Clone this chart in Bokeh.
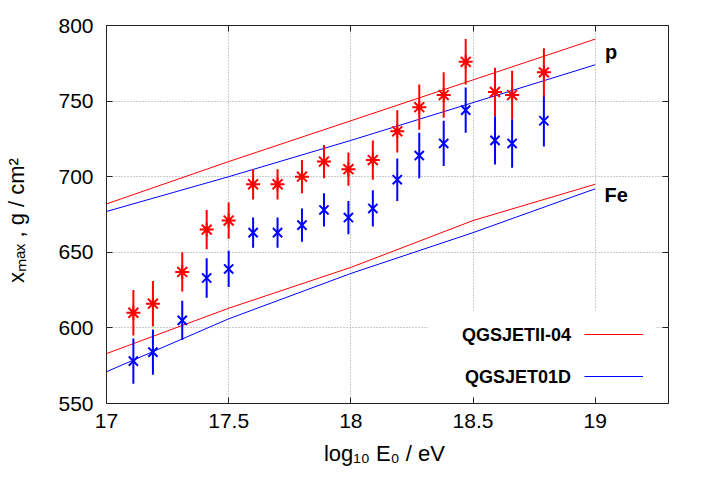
from bokeh.plotting import figure
from bokeh.models import (Range1d, FixedTicker, LinearAxis, Label, Legend,
                          LegendItem, BoxAnnotation)
from bokeh.embed import file_html
from bokeh.resources import INLINE

# ---- data ----
energy = [17.11, 17.19, 17.31, 17.41, 17.50, 17.60, 17.70, 17.80, 17.89,
          17.99, 18.09, 18.19, 18.28, 18.38, 18.47, 18.59, 18.66, 18.79]
xmax_q2 = [610, 616, 637, 665, 671, 695, 695, 700, 710,
           705, 711, 730, 746, 754, 776, 756, 754, 769]
err_q2 = [15, 15, 13, 13, 12, 10, 10, 11, 11, 11, 13, 14, 15, 15, 15, 16, 16, 16]
xmax_q1 = [578, 584, 605, 633, 639, 663, 663, 668, 678,
           673, 679, 698, 714, 722, 744, 724, 722, 737]
err_q1 = [15, 15, 13, 13, 12, 10, 10, 11, 11, 11, 12, 14, 15, 15, 15, 16, 16, 17]

model_e = [17.0, 17.5, 18.0, 18.5, 19.0]
q2_p = [682, 710, 737, 764, 791]
q1_p = [677, 700, 724, 749, 774]
q2_fe = [583, 613, 640, 671, 695]
q1_fe = [571, 606, 636, 663, 692]

xticks = [17, 17.5, 18, 18.5, 19]
yticks = [550, 600, 650, 700, 750, 800]
series_names = ["QGSJETII-04", "QGSJET01D"]
x_title = "log\u2081\u2080 E\u2080 /  eV"
y_title = "x\u2098\u2090\u2093 ,   g / cm\u00b2"

RED = "#ff0000"
BLUE = "#0000ff"
FONT = "Liberation Sans"

p = figure(width=700, height=488, x_range=Range1d(17, 19.3),
           y_range=Range1d(550, 800), output_backend="svg",
           toolbar_location=None, min_border_left=106, min_border_right=32,
           min_border_top=25, min_border_bottom=85)
p.outline_line_color = "#222222"
p.outline_line_width = 1

# grids
p.xgrid.ticker = FixedTicker(ticks=xticks)
p.ygrid.ticker = FixedTicker(ticks=yticks)
for g in (p.xgrid, p.ygrid):
    g.grid_line_color = "#999999"
    g.grid_line_dash = "1 2"
    g.grid_line_width = 1

def style_axis(ax, ticks):
    ax.ticker = FixedTicker(ticks=ticks)
    ax.axis_line_color = None
    ax.major_tick_in = 6
    ax.major_tick_out = 0
    ax.major_tick_line_color = "#222222"
    ax.minor_tick_line_color = None
    ax.major_label_text_font = FONT
    ax.major_label_text_font_size = "21px"
    ax.major_label_text_color = "black"
    ax.axis_label_text_font = FONT
    ax.axis_label_text_font_size = "22px"
    ax.axis_label_text_font_style = "normal"
    ax.axis_label_text_color = "black"

style_axis(p.xaxis[0], xticks)
style_axis(p.yaxis[0], yticks)
p.xaxis[0].major_label_standoff = 10
p.yaxis[0].major_label_standoff = 13
p.xaxis[0].axis_label = x_title
p.yaxis[0].axis_label = y_title
p.xaxis[0].axis_label_standoff = 10
p.yaxis[0].axis_label_standoff = 26

# mirrored inward ticks on top and right, without labels
top_ax = LinearAxis()
right_ax = LinearAxis()
style_axis(top_ax, xticks)
style_axis(right_ax, yticks)
for ax in (top_ax, right_ax):
    ax.major_label_text_color = None
p.add_layout(top_ax, "above")
p.add_layout(right_ax, "right")

# model lines
r_q2p = p.line(model_e, q2_p, line_color=RED, line_width=1)
p.line(model_e, q2_fe, line_color=RED, line_width=1)
r_q1p = p.line(model_e, q1_p, line_color=BLUE, line_width=1)
p.line(model_e, q1_fe, line_color=BLUE, line_width=1)

# data with error bars
p.segment(x0=energy, y0=[v - e for v, e in zip(xmax_q1, err_q1)],
          x1=energy, y1=[v + e for v, e in zip(xmax_q1, err_q1)],
          line_color=BLUE, line_width=2)
p.scatter(energy, xmax_q1, marker="x", size=13, line_color=BLUE, line_width=2)
p.segment(x0=energy, y0=[v - e for v, e in zip(xmax_q2, err_q2)],
          x1=energy, y1=[v + e for v, e in zip(xmax_q2, err_q2)],
          line_color=RED, line_width=2)
p.scatter(energy, xmax_q2, marker="asterisk", size=14, line_color=RED, line_width=2)

# legend background (white box interrupting the grid)
box = BoxAnnotation(left=321.5, right=549.5, bottom=7, top=93,
                    left_units="screen", right_units="screen",
                    bottom_units="screen", top_units="screen",
                    fill_color="white", fill_alpha=1.0, line_color=None)
p.add_layout(box)

legend = Legend(items=[LegendItem(label=" ", renderers=[r_q2p]),
                       LegendItem(label=" ", renderers=[r_q1p])],
                location=(477.5, 17.3), padding=0, margin=0, spacing=22,
                glyph_width=59, glyph_height=20, label_height=20,
                label_standoff=2, label_width=2,
                border_line_color=None, background_fill_alpha=0.0)
p.add_layout(legend)

def lab(text, x, y, size, style="normal", align="left"):
    p.add_layout(Label(text=text, x=x, y=y, x_units="screen", y_units="screen",
                       text_font=FONT, text_font_size=size,
                       text_font_style=style, text_align=align,
                       text_baseline="alphabetic", text_color="black"))

# legend texts
lab(series_names[0], 464.5, 69, "18px", "bold", "right")
lab(series_names[1], 464.5, 26.7, "18px", "bold", "right")

# curve labels
lab("p", 498.5, 352, "20px", "bold")
lab("Fe", 498, 209, "20px", "bold")

open("out.html", "w").write(file_html(p, INLINE))
